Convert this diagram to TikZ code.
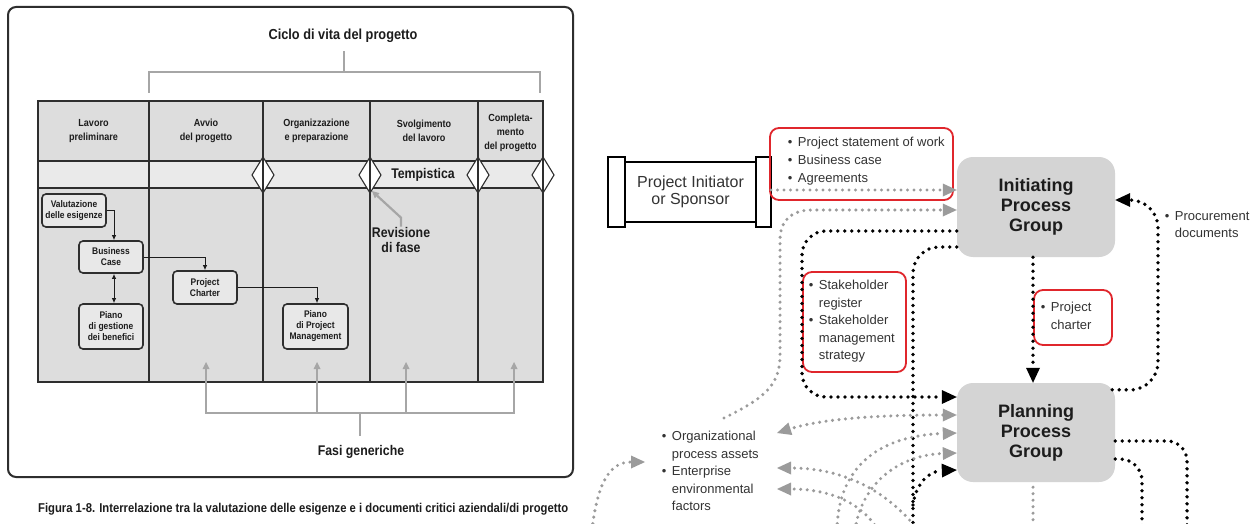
\documentclass[tikz,border=0pt]{standalone}
\usepackage{fontspec}
\setmainfont{Liberation Sans}
\newfontfamily\narrowsans[FakeStretch=0.88]{Liberation Sans}
\usetikzlibrary{arrows.meta,calc}

\definecolor{ink}{HTML}{1C1C1C}
\definecolor{rule}{HTML}{2E2E2E}
\definecolor{cellgray}{HTML}{DDDDDD}
\definecolor{bandgray}{HTML}{EAEAEA}
\definecolor{docgray}{HTML}{E8E8E8}
\definecolor{guidegray}{HTML}{A6A6A6}
\definecolor{groupgray}{HTML}{D4D4D4}
\definecolor{notered}{HTML}{E0262C}
\definecolor{flowgray}{HTML}{9B9B9B}
\definecolor{bodytext}{HTML}{333333}

\newcommand{\bulletlist}[1]{\begin{tabular}{@{}l@{\hspace{5.5pt}}l@{}}#1\end{tabular}}

\tikzset{
  heading/.style={font=\narrowsans\bfseries\fontsize{14.5}{16}\selectfont, text=ink, inner sep=0pt, align=center},
  colhead/.style={font=\narrowsans\bfseries\fontsize{10.3}{14}\selectfont, text=ink, align=center, inner sep=0pt},
  docbox/.style={draw=rule, line width=1.6pt, rounded corners=4pt, fill=docgray,
    minimum width=64pt, inner sep=0pt, align=center,
    font=\narrowsans\bfseries\fontsize{9.6}{11}\selectfont, text=ink},
  flow/.style={draw=ink, line width=0.9pt, -{Latex[length=5pt 0 0,width=4.5pt 0 0]}},
  flowboth/.style={draw=ink, line width=0.9pt, {Latex[length=5pt 0 0,width=4.5pt 0 0]}-{Latex[length=5pt 0 0,width=4.5pt 0 0]}},
  guide/.style={draw=guidegray, line width=2.2pt},
  guidearrow/.style={guide, -{Triangle[length=7pt 0 0,width=7pt 0 0,line width=0pt 0 0]}},
  gate/.style={draw=rule, line width=1.1pt, fill=white},
  group/.style={fill=groupgray, rounded corners=16pt, minimum width=158pt, minimum height=100pt,
    inner sep=0pt, align=center, font=\bfseries\fontsize{18}{20}\selectfont, text=ink},
  note/.style={draw=notered, line width=1.8pt, rounded corners=9pt, inner sep=0pt},
  listtext/.style={font=\fontsize{13}{17.5}\selectfont, text=bodytext, inner sep=0pt},
  endcap/.style={draw=black, line width=2pt, fill=white, minimum height=70pt, inner sep=0pt, outer sep=0pt},
  blackdots/.style={draw=black, line width=3.8pt, line cap=round, dash pattern=on 0pt off 7pt},
  graydots/.style={draw=flowgray, line width=3.4pt, line cap=round, dash pattern=on 0pt off 6.5pt},
  blacktip/.style={-{Triangle[length=15pt 0 0,width=14pt 0 0,line width=0pt 0 0]}},
  graytip/.style={-{Triangle[length=14pt 0 0,width=13pt 0 0,line width=0pt 0 0]}},
  graytips/.style={{Triangle[length=14pt 0 0,width=13pt 0 0,line width=0pt 0 0]}-{Triangle[length=14pt 0 0,width=13pt 0 0,line width=0pt 0 0]}},
}

\begin{document}
\begin{tikzpicture}[x=1pt,y=-1pt]
\useasboundingbox (0,0) rectangle (1257,524);
\fill[white] (0,0) rectangle (1257,524);
\begin{scope}
\clip (0,0) rectangle (1257,524);

% ================= life cycle panel =================
\draw[rule, line width=2pt, rounded corners=8pt] (8,7) rectangle (573,477);

\node[heading] (life) at (343,36) {Ciclo di vita del progetto};
\draw[guide] (149,93) -- (149,72) -- (540,72) -- (540,93);
\draw[guide] (344,72) -- (344,51);

% table body
\fill[cellgray] (38,101) rectangle (543,161);
\fill[bandgray] (38,161) rectangle (543,188);
\fill[cellgray] (38,188) rectangle (543,382);
\draw[rule, line width=1.2pt] (38,161) -- (543,161) (38,188) -- (543,188);
\foreach \gx in {263,370,478,543}
  \draw[gate] (\gx,157) -- (\gx+11,175) -- (\gx,193) -- (\gx-11,175) -- cycle;
\foreach \gx in {149,263,370,478}
  \draw[rule, line width=1.1pt] (\gx,101) -- (\gx,382);
\draw[rule, line width=1.2pt] (38,101) rectangle (543,382);

\node[colhead] (h1) at (93.5,131) {Lavoro\\preliminare};
\node[colhead] (h2) at (206,131) {Avvio\\del progetto};
\node[colhead] (h3) at (316.5,131) {Organizzazione\\e preparazione};
\node[colhead] (h4) at (424,131) {Svolgimento\\del lavoro};
\node[colhead] (h5) at (510.5,132.5) {Completa-\\mento\\del progetto};
\node[heading, font=\narrowsans\bfseries\fontsize{14}{15}\selectfont] (timing) at (423,175) {Tempistica};

% documents
\node[docbox, minimum height=33pt] (val) at (74,210.5) {Valutazione\\delle esigenze};
\node[docbox, minimum height=32pt] (bc) at (111,257) {Business\\Case};
\node[docbox, minimum height=45pt] (pgb) at (111,326.5) {Piano\\di gestione\\dei benefici};
\node[docbox, minimum height=33pt] (pc) at (205,287.5) {Project\\Charter};
\node[docbox, minimum height=45pt, minimum width=65pt] (pm) at (315.5,326.5) {Piano\\di Project\\Management};
\draw[flow] (val.east) -| ([xshift=3pt]bc.north);
\draw[flowboth] ([xshift=3pt]bc.south) -- ([xshift=3pt]pgb.north);
\draw[flow] (bc.east) -| (pc.north);
\draw[flow] (pc.east) -| ([xshift=1.5pt]pm.north);

% phase review pointer
\node[heading, font=\narrowsans\bfseries\fontsize{14}{15}\selectfont] (review) at (401,239.5) {Revisione\\di fase};
\coordinate (gatefoot) at (372,191);
\draw[guidearrow] (review.north) -- ++(0,-9) -- (gatefoot);

% generic phases bracket
\foreach \gx in {206,317,406,514}
  \draw[guidearrow] (\gx,413) -- (\gx,362);
\draw[guide, line cap=rect] (206,413) -- (514,413);
\draw[guide] (360,413) -- (360,436);
\node[heading, font=\narrowsans\bfseries\fontsize{14}{15}\selectfont] (phases) at (361,452) {Fasi generiche};

\node[anchor=west, inner sep=0pt, font=\narrowsans\bfseries\fontsize{12.8}{14}\selectfont, text=ink] (caption) at (38,509)
  {Figura 1-8. Interrelazione tra la valutazione delle esigenze e i documenti critici aziendali/di progetto};

% ================= process group flow =================
\node[draw=black, line width=2pt, fill=white, outer sep=0pt, minimum width=131pt, minimum height=60pt,
  inner sep=0pt, align=center, font=\fontsize{16}{17.5}\selectfont, text=bodytext] (sponsor) at (690.5,192)
  {Project Initiator\\or Sponsor};
\node[endcap, minimum width=17pt, anchor=east] (capL) at (sponsor.west) {};
\node[endcap, minimum width=15pt, anchor=west] (capR) at (sponsor.east) {};

\node[note, minimum width=183pt, minimum height=72pt] (stmt) at (861.5,164) {};
\node[listtext, font=\fontsize{13}{18}\selectfont, anchor=west] (stmtlist) at (787.7,161)
  {\bulletlist{\textbullet & Project statement of work\\ \textbullet & Business case\\ \textbullet & Agreements}};

\node[group] (init) at (1036,207) {Initiating\\Process\\Group};
\node[group, minimum height=99pt] (plan) at (1036,432.5) {Planning\\Process\\Group};

\node[listtext, anchor=west] (procure) at (1164.7,225.5)
  {\bulletlist{\textbullet & Procurement\\ & documents}};

\node[note, minimum width=103pt, minimum height=100pt] (stake) at (854.5,322) {};
\node[listtext, anchor=west] (stakelist) at (808.7,321)
  {\bulletlist{\textbullet & Stakeholder\\ & register\\ \textbullet & Stakeholder\\ & management\\ & strategy}};

\node[note, minimum width=78pt, minimum height=55pt] (charter) at (1073,317.5) {};
\node[listtext, anchor=west] (charterlist) at (1040.7,317)
  {\bulletlist{\textbullet & Project\\ & charter}};

\node[listtext, anchor=west] (assets) at (661.7,472)
  {\bulletlist{\textbullet & Organizational\\ & process assets\\ \textbullet & Enterprise\\ & environmental\\ & factors}};

% black dotted flows
\draw[blackdots, blacktip, rounded corners=24pt] (init.west |- 0,231) -- (802,231) -- (802,397) -- (plan.west |- 0,397);
\draw[blackdots, rounded corners=26pt] (init.west |- 0,247) -- (913,247) -- (913,530);
\draw[blackdots, blacktip] ([xshift=-3pt]init.south) -- ([xshift=-3pt]plan.north);
\draw[blackdots, blacktip, rounded corners=28pt] ($(plan.north east)+(-3,7)$) -- (1158,390) -- (1158,200) -- (init.east |- 0,200);
\coordinate (loopin) at (913,505);
\draw[blackdots, blacktip] (loopin) .. controls (916,482) and (930,471) .. (plan.west |- 0,470);
\draw[blackdots, rounded corners=20pt] (plan.east |- 0,441) -- (1187,441) -- (1187,530);
\draw[blackdots, rounded corners=22pt] (plan.east |- 0,459) -- (1142,459) -- (1142,530);

% gray dotted flows
\draw[graydots, graytip] (capR.east |- 0,190) -- (init.west |- 0,190);
\coordinate (assetsout) at (724,418);
\draw[graydots, graytip] (assetsout) .. controls (765,398) and (780,385) .. (780,355) -- (780,240)
  .. controls (780,222) and (790,210) .. (812,210) -- (init.west |- 0,210);
\coordinate (assetsin1) at (777,433);
\coordinate (assetsin2) at (777,468);
\coordinate (assetsin3) at (777,489);
\draw[graydots, graytips] (plan.west |- 0,415) .. controls (860,415) and (815,421) .. (assetsin1);
\draw[graydots, graytip] (837,530) .. controls (838,470) and (875,436) .. (plan.west |- 0,433);
\draw[graydots, graytip] (855,530) .. controls (862,482) and (900,455) .. (plan.west |- 0,453);
\draw[graydots, graytip] (918,530) .. controls (885,488) and (840,468) .. (assetsin2);
\draw[graydots, graytip] (878,530) .. controls (862,503) and (830,489) .. (assetsin3);
\coordinate (assetsfeed) at (645,462);
\draw[graydots, graytip] (592,530) .. controls (598,478) and (612,462) .. (assetsfeed);
\draw[graydots] ($(plan.south)+(-3,5)$) -- ($(plan.south)+(-3,60)$);

\end{scope}
\end{tikzpicture}
\end{document}
